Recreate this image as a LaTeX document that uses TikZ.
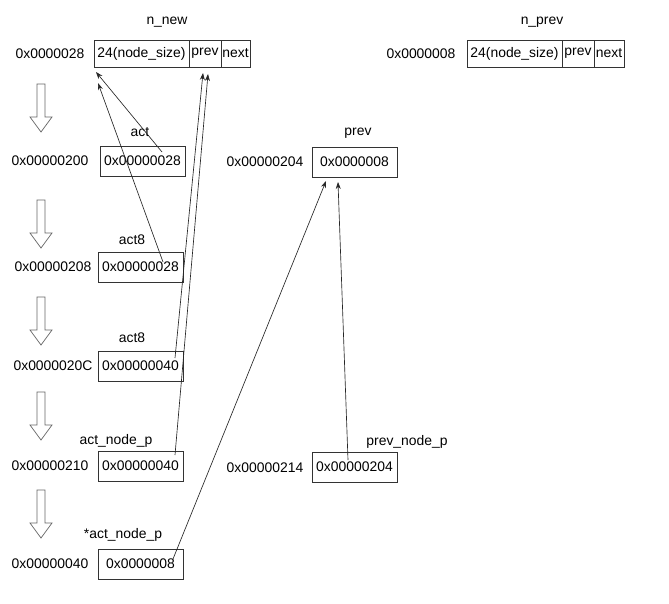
\documentclass[tikz,border=0pt]{standalone}
\usepackage{fontspec}
\setmainfont{Liberation Sans}
\usetikzlibrary{arrows.meta}
\begin{document}
\begin{tikzpicture}[x=1pt,y=-1pt,
  every node/.style={font=\fontsize{13.9}{16}\selectfont, inner sep=0pt, text=black},
  membox/.style={draw=black!80, line width=0.8pt, minimum height=30pt, minimum width=85pt},
  cell/.style={draw=black!80, line width=0.8pt, minimum height=27pt},
  ptr/.style={draw=black!85, line width=0.65pt, -{Stealth[length=7pt,width=5pt]}},
  hollow/.style={draw=black!60, line width=0.7pt, fill=white},
  downarrow/.pic={\draw[hollow] (-4,0) -- (4,0) -- (4,33) -- (11,33) -- (0,48) -- (-11,33) -- (-4,33) -- cycle;}
]
\useasboundingbox[fill=white] (0,0) rectangle (669,604);

% n_new structure
\node (nnewlbl) at (167,22) {n\_new};
\node (nnewaddr) at (50,54) {0x0000028};
\node[cell, minimum width=95pt] (nnewsize) at (141.5,53.5) {24(node\_size)};
\node[cell, minimum width=32pt] (nnewprev) at (205,53.5) {prev};
\node[cell, minimum width=29pt] (nnewnext) at (235.5,53.5) {next};

% n_prev structure
\node (nprevlbl) at (542,22) {n\_prev};
\node (nprevaddr) at (421,54) {0x0000008};
\node[cell, minimum width=95pt] (nprevsize) at (514.5,53.5) {24(node\_size)};
\node[cell, minimum width=32pt] (nprevprev) at (578,53.5) {prev};
\node[cell, minimum width=30pt] (nprevnext) at (609,53.5) {next};

% hollow down arrows
\foreach \yy in {84,200,297,392,490} \pic at (41,\yy) {downarrow};

% act
\node (actlbl) at (140,132) {act};
\node (actaddr) at (50,161) {0x00000200};
\node[membox] (act) at (142.5,161) {0x00000028};

% act8 (1)
\node (actAlbl) at (132,240) {act8};
\node (actAaddr) at (53,267) {0x00000208};
\node[membox] (actA) at (140.5,267) {0x00000028};

% act8 (2)
\node (actBlbl) at (132,338) {act8};
\node (actBaddr) at (53,366) {0x0000020C};
\node[membox] (actB) at (140.5,366) {0x00000040};

% act_node_p
\node (anplbl) at (116,441) {act\_node\_p};
\node (anpaddr) at (50,466) {0x00000210};
\node[membox] (anp) at (140.5,466) {0x00000040};

% *act_node_p
\node (sanplbl) at (123,535) {*act\_node\_p};
\node (sanpaddr) at (50,564) {0x00000040};
\node[membox] (sanp) at (140.5,564) {0x0000008};

% prev
\node (prevlbl) at (358,133) {prev};
\node (prevaddr) at (265,162) {0x00000204};
\node[membox] (prev) at (354.5,162) {0x0000008};

% prev_node_p
\node (pnplbl) at (407,442) {prev\_node\_p};
\node (pnpaddr) at (265,468) {0x00000214};
\node[membox] (pnp) at (354.5,467) {0x00000204};

% connector end points
\coordinate (s1) at (162,152); \coordinate (t1) at (96,72);
\coordinate (s2) at (163,262); \coordinate (t2) at (98,83);
\coordinate (s3) at (175,358); \coordinate (t3) at (203,73);
\coordinate (s4) at (175,455); \coordinate (t4) at (208,74);
\coordinate (s5) at (173,559); \coordinate (t5) at (326,181);
\coordinate (s6) at (348,460); \coordinate (t6) at (338,182);

\draw[ptr] (s1) -- (t1);
\draw[ptr] (s2) -- (t2);
\draw[ptr] (s3) -- (t3);
\draw[ptr] (s4) -- (t4);
\draw[ptr] (s5) -- (t5);
\draw[ptr] (s6) -- (t6);
\end{tikzpicture}
\end{document}
